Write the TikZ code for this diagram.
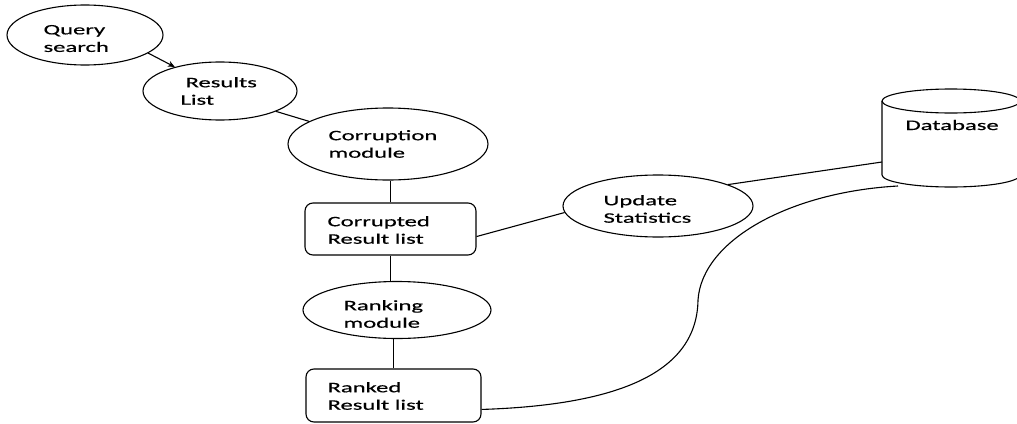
\documentclass[tikz,border=0pt]{standalone}
\usepackage{fontspec}
\setmainfont[FakeStretch=1.7,FakeBold=0.5]{Carlito}
\usetikzlibrary{shapes.geometric,arrows.meta}
\begin{document}
\begin{tikzpicture}[x=1pt,y=-1pt,line width=1.1pt,
  proc/.style={draw,ellipse,inner sep=0pt},
  boxnode/.style={draw,rectangle,rounded corners=8pt,inner sep=0pt},
  lbl/.style={anchor=west,align=left,inner sep=0pt,font=\fontsize{14.5}{17.5}\selectfont,text=black},
  conn/.style={draw,line width=1.1pt}]
\useasboundingbox (0,0) rectangle (1017,423);
\clip (0,0) rectangle (1017,423);
% shapes
\node[proc,minimum width=156pt,minimum height=60pt] (q) at (85,35) {};
\node[proc,minimum width=154pt,minimum height=58pt] (r) at (220,91) {};
\node[proc,minimum width=200pt,minimum height=72pt] (cor) at (388,144) {};
\node[boxnode,minimum width=171pt,minimum height=52pt] (cb) at (390.5,229) {};
\node[proc,minimum width=188pt,minimum height=57pt] (rnk) at (397,310) {};
\node[boxnode,minimum width=175pt,minimum height=53pt] (rk) at (393.5,395.5) {};
\node[proc,minimum width=190pt,minimum height=62pt] (up) at (658,206) {};
% database cylinder
\draw (951,101) ellipse [x radius=69, y radius=12];
\draw (882,101) -- (882,175) arc[start angle=180,end angle=0,x radius=69,y radius=12] -- (1020,101);
\coordinate (dbl) at (882,162);
\coordinate (dbb) at (898,186);
% labels
\node[lbl] (qt) at (43,38.5) {Query\\search};
\node[lbl] (rt) at (180,91) {\hspace{5pt}Results\\List};
\node[lbl] (cort) at (328,144) {Corruption\\module};
\node[lbl] (cbt) at (327,230) {Corrupted\\Result list};
\node[lbl] (rnkt) at (343,314) {Ranking\\module};
\node[lbl] (rkt) at (327,396) {Ranked\\Result list};
\node[lbl] (upt) at (603,209) {Update\\Statistics};
\node[lbl,anchor=base west] (dbt) at (905,130) {Database};
% connectors
\draw[conn,-{Stealth[length=7pt,width=6pt]}] (q.-16) -- (r.152);
\draw[conn] (r.-20) -- (cor.164);
\draw[conn] (cb.north) -- (cb.north |- cor.south);
\draw[conn] (cb.south) -- (cb.south |- rnk.north);
\draw[conn] (rk.north) -- (rk.north |- rnk.south);
\draw[conn] (cb.-5) -- (up.-176);
\draw[conn] (up.17) -- (dbl);
\draw[conn] (rk.-9.4) .. controls (620,405) and (697,372) .. (698,300)
  .. controls (702,240) and (790,192) .. (dbb);
\end{tikzpicture}
\end{document}
